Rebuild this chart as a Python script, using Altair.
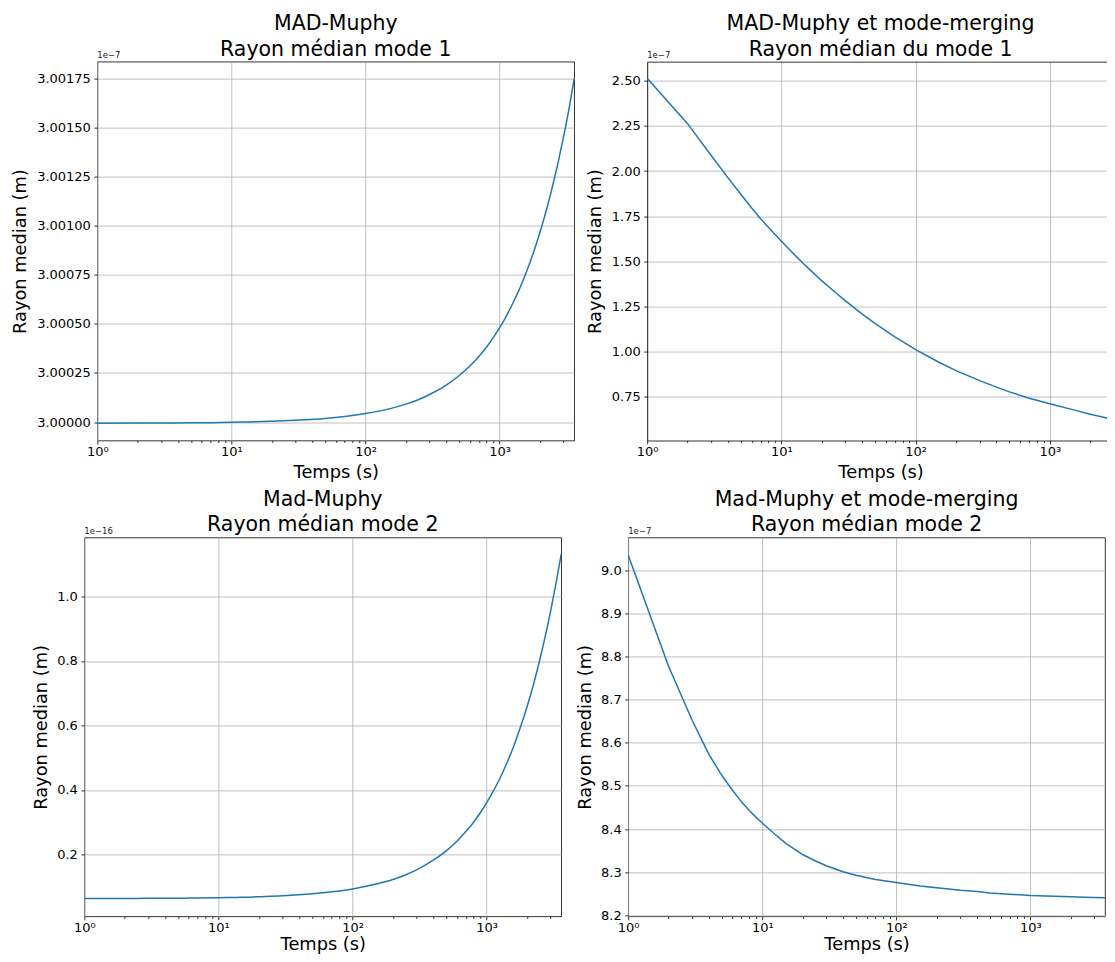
import altair as alt
import pandas as pd

FONT = "DejaVu Sans"
LINE_COLOR = "#1f77b4"

# ---------------- values ----------------
# Top-left: MAD-Muphy, median radius mode 1 (units of 1e-7 m)
t_p1 = [1, 2, 3, 5, 7, 10, 15, 20, 30, 50, 70, 100, 150, 200, 250, 300, 400, 500, 600,
        700, 800, 900, 1000, 1100, 1250, 1400, 1600, 1800, 2000, 2250, 2500, 2750, 3000,
        3300, 3600]
r_p1 = [2.999994, 2.999995, 2.999995, 2.999996, 2.999997, 2.999999, 3.000001, 3.000004,
        3.000009, 3.000018, 3.000028, 3.000043, 3.000067, 3.000091, 3.000115, 3.000140,
        3.000188, 3.000237, 3.000285, 3.000334, 3.000382, 3.000431, 3.000480, 3.000528,
        3.000602, 3.000674, 3.000771, 3.000868, 3.000966, 3.001087, 3.001209, 3.001330,
        3.001452, 3.001598, 3.001748]

# Top-right: MAD-Muphy + mode-merging, median radius mode 1 (units of 1e-7 m)
t_p2 = [1, 2, 3, 4, 5, 6, 7, 8, 9, 10, 12, 15, 20, 25, 30, 40, 50, 70, 100, 150, 200,
        300, 400, 500, 700, 1000, 1500, 2000, 2500, 3000]
r_p2 = [2.515, 2.263, 2.086, 1.962, 1.870, 1.795, 1.735, 1.688, 1.647, 1.610, 1.549,
        1.477, 1.391, 1.329, 1.280, 1.206, 1.153, 1.080, 1.009, 0.938, 0.893, 0.837,
        0.801, 0.775, 0.740, 0.709, 0.675, 0.651, 0.634, 0.620]

# Bottom-left: Mad-Muphy, median radius mode 2 (units of 1e-16 m)
t_p3 = [1, 2, 3, 5, 7, 10, 15, 20, 30, 50, 70, 100, 150, 200, 250, 300, 400, 500, 600,
        700, 800, 900, 1000, 1100, 1250, 1400, 1600, 1800, 2000, 2250, 2500, 2750, 3000,
        3300, 3600]
r_p3 = [0.063, 0.063, 0.064, 0.064, 0.065, 0.066, 0.067, 0.069, 0.072, 0.078, 0.084,
        0.093, 0.108, 0.122, 0.137, 0.152, 0.182, 0.211, 0.241, 0.271, 0.300, 0.330,
        0.360, 0.390, 0.434, 0.479, 0.538, 0.598, 0.657, 0.731, 0.806, 0.880, 0.954,
        1.043, 1.131]

# Bottom-right: Mad-Muphy + mode-merging, median radius mode 2 (units of 1e-7 m)
t_p4 = [1, 2, 3, 4, 5, 6, 7, 8, 9, 10, 12, 15, 20, 25, 30, 40, 50, 70, 100, 150, 200,
        300, 400, 500, 700, 1000, 1500, 2000, 2500, 3000, 3600]
r_p4 = [9.035, 8.777, 8.652, 8.573, 8.524, 8.490, 8.463, 8.443, 8.427, 8.414, 8.392,
        8.367, 8.341, 8.326, 8.315, 8.301, 8.293, 8.283, 8.276, 8.268, 8.264, 8.258,
        8.255, 8.252, 8.249, 8.246, 8.244, 8.243, 8.242, 8.2415, 8.241]

titles = [
    ["MAD-Muphy", "Rayon médian mode 1"],
    ["MAD-Muphy et mode-merging", "Rayon médian du mode 1"],
    ["Mad-Muphy", "Rayon médian mode 2"],
    ["Mad-Muphy et mode-merging", "Rayon médian mode 2"],
]
offset_texts = ["1e\u22127", "1e\u22127", "1e\u221216", "1e\u22127"]
x_title = "Temps (s)"
y_title = "Rayon median (m)"

x_ticks = [1, 2, 3, 4, 5, 6, 7, 8, 9,
           10, 20, 30, 40, 50, 60, 70, 80, 90,
           100, 200, 300, 400, 500, 600, 700, 800, 900,
           1000, 2000, 3000]

y_ticks = [
    [3.0, 3.00025, 3.0005, 3.00075, 3.001, 3.00125, 3.0015, 3.00175],
    [0.75, 1.0, 1.25, 1.5, 1.75, 2.0, 2.25, 2.5],
    [0.2, 0.4, 0.6, 0.8, 1.0],
    [8.2, 8.3, 8.4, 8.5, 8.6, 8.7, 8.8, 8.9, 9.0],
]
y_formats = [".5f", ".2f", ".1f", ".1f"]
y_domains = [[2.999906, 3.001834], [0.505, 2.607], [0.008, 1.183], [8.1977, 9.0756]]
x_max = [3600, 3000, 3600, 3600]
smooth = [True, False, True, False]

# ---------------- layout (pixels) ----------------
W = [477, 467, 477, 477]
H = 379
Y_TITLE_X = [-72.3, -46.8, -38.2, -37.8]
X_TITLE_Y = [37, 37, 33.5, 33.5]
SP_LEFT_TOP, SP_MID_TOP, SP_LEFT_BOT, SP_MID_BOT = 14, 73, 1, 67

MAJOR = "abs(log(datum.value)/LN10 - round(log(datum.value)/LN10)) < 0.000001"
MINOR = "abs(log(datum.value)/LN10 - round(log(datum.value)/LN10)) > 0.000001"
LABEL_EXPR = ("datum.value == 1 ? '10\u2070' : datum.value == 10 ? '10\u00b9' : "
              "datum.value == 100 ? '10\u00b2' : datum.value == 1000 ? '10\u00b3' : ''")

common_axis = dict(
    labelFont=FONT, labelFontSize=13, labelColor="black",
    tickColor="black", tickWidth=0.8,
    domainColor="black", domainWidth=0.8,
    gridColor="#b0b0b0", gridWidth=0.8,
    titleFont=FONT, titleFontSize=17.8, titleFontWeight="normal", titleColor="black",
)


def panel(i, t, r, framed):
    df = pd.DataFrame({"t": t, "r": r})
    xscale = alt.Scale(type="log", domain=[1, x_max[i]], nice=False)
    yscale = alt.Scale(domain=y_domains[i], zero=False, nice=False)
    xaxis = alt.Axis(
        values=x_ticks, labelExpr=LABEL_EXPR, labelFlush=False, labelOverlap=False,
        labelPadding=1.7,
        tickSize={"condition": {"test": MINOR, "value": 2}, "value": 3.5},
        gridOpacity={"condition": {"test": MAJOR, "value": 1}, "value": 0},
        domain=not framed, title=x_title, titleY=X_TITLE_Y[i], titleBaseline="alphabetic",
        **common_axis,
    )
    yaxis = alt.Axis(
        values=y_ticks[i], format=y_formats[i], tickSize=3.5, labelOverlap=False,
        labelPadding=3.5,
        domain=not framed, title=y_title, titleX=Y_TITLE_X[i], titleY=H / 2,
        titleAngle=270, titleAlign="center", titleBaseline="alphabetic",
        **common_axis,
    )
    mark = (alt.Chart(df).mark_line(color=LINE_COLOR, strokeWidth=1.5, clip=True,
                                    interpolate="monotone")
            if smooth[i] else
            alt.Chart(df).mark_line(color=LINE_COLOR, strokeWidth=1.5, clip=True))
    line = mark.encode(
        x=alt.X("t:Q", scale=xscale, axis=xaxis),
        y=alt.Y("r:Q", scale=yscale, axis=yaxis),
    )
    offs = alt.Chart(pd.DataFrame({"s": [offset_texts[i]]})).mark_text(
        align="left", baseline="alphabetic", font=FONT, fontSize=8.5, color="#222222"
    ).encode(x=alt.value(0), y=alt.value(-3.5), text="s:N")
    layers = [line, offs]
    if not framed:
        top = alt.Chart(df).mark_line(opacity=0).encode(
            x=alt.X("t:Q", scale=xscale, axis=alt.Axis(
                orient="top", labels=False, ticks=False, grid=False, domain=True,
                domainColor="black", domainWidth=0.8, title=None)),
            y=alt.value(0),
        )
        layers.append(top)
    ch = alt.layer(*layers)
    if not framed:
        ch = ch.resolve_axis(x="independent")
    view = (alt.ViewBackground(stroke="black", strokeWidth=0.8, fill="white") if framed
            else alt.ViewBackground(stroke="transparent", fill="white"))
    return ch.properties(
        width=W[i], height=H, view=view,
        title=alt.Title(text=titles[i], font=FONT, fontSize=20.5, fontWeight="normal",
                        color="black", lineHeight=25.6, anchor="middle", offset=-9),
    )


def spacer(w):
    return alt.Chart(pd.DataFrame({"s": [0]})).mark_point(opacity=0, size=1).encode(
        x=alt.value(0), y=alt.value(0)
    ).properties(width=w, height=10, view=alt.ViewBackground(stroke="transparent"))


p1 = panel(0, t_p1, r_p1, True)
p2 = panel(1, t_p2, r_p2, False)
p3 = panel(2, t_p3, r_p3, True)
p4 = panel(3, t_p4, r_p4, True)

row1 = alt.hconcat(spacer(SP_LEFT_TOP), p1, spacer(SP_MID_TOP), p2,
                   spacing=0, bounds="flush")
row2 = alt.hconcat(spacer(SP_LEFT_BOT), p3, spacer(SP_MID_BOT), p4,
                   spacing=0, bounds="flush")

# the right-hand panels run past the page edge in the reference: the last pixels are cut
chart = alt.vconcat(row1, row2, spacing=7, bounds="full").properties(
    padding={"left": 2.4, "top": 4.5, "right": -8, "bottom": 0},
    background="white",
).configure(font=FONT)

chart.save("out.html", embed_options={"renderer": "svg", "actions": False})
